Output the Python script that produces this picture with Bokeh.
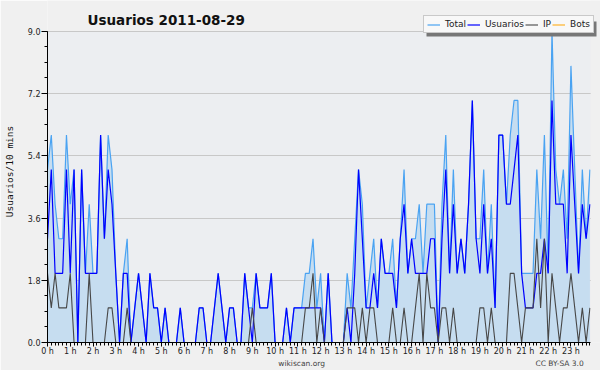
from bokeh.plotting import figure
from bokeh.models import (ColumnDataSource, Range1d, FixedTicker, Legend, LegendItem,
                          Label, BoxAnnotation, NumeralTickFormatter, LinearAxis)
from bokeh.embed import file_html
from bokeh.resources import INLINE

# ---- data: one value per 10-minute slot of 2011-08-29 ----
hour_labels = ["0 h", "1 h", "2 h", "3 h", "4 h", "5 h", "6 h", "7 h", "8 h", "9 h",
               "10 h", "11 h", "12 h", "13 h", "14 h", "15 h", "16 h", "17 h",
               "18 h", "19 h", "20 h", "21 h", "22 h", "23 h"]

total = [5, 6, 4, 3, 3, 6,   4, 5, 0, 5, 2, 4,   2, 2, 6, 3, 6, 5,   2, 0, 2, 3, 0, 1,
         2, 1, 0, 2, 1, 1,   0, 1, 0, 0, 0, 1,   0, 0, 0, 0, 1, 1,   0, 0, 1, 2, 1, 0,
         1, 1, 0, 0, 2, 1,   1, 2, 1, 1, 1, 2,   0, 0, 0, 1, 0, 1,   1, 1, 2, 2, 3, 1,
         2, 0, 2, 0, 0, 0,   0, 2, 1, 3, 5, 4,   1, 2, 3, 1, 3, 2,   2, 3, 1, 3, 5, 2,
         3, 3, 4, 2, 4, 4,   4, 0, 4, 6, 2, 5,   2, 3, 2, 4, 7, 3,   3, 5, 2, 4, 1, 6,
         6, 4, 6, 7, 7, 2,   2, 2, 2, 5, 3, 6,   2, 9, 5, 4, 5, 3,   8, 5, 2, 5, 3, 5]

usuarios = [3, 5, 2, 2, 2, 5,   2, 5, 0, 5, 2, 2,   2, 2, 6, 3, 5, 4,   2, 0, 2, 2, 0, 1,
            2, 1, 0, 2, 1, 1,   0, 1, 0, 0, 0, 1,   0, 0, 0, 0, 1, 1,   0, 0, 1, 2, 1, 0,
            1, 1, 0, 0, 2, 1,   0, 2, 1, 1, 1, 2,   0, 0, 0, 1, 0, 1,   1, 1, 1, 1, 1, 1,
            1, 0, 2, 0, 0, 0,   0, 1, 0, 2, 5, 3,   1, 1, 2, 1, 3, 2,   2, 2, 1, 3, 4, 2,
            3, 2, 2, 2, 2, 3,   3, 0, 3, 5, 2, 4,   2, 3, 2, 4, 7, 3,   2, 4, 2, 3, 1, 6,
            6, 4, 4, 5, 6, 2,   1, 1, 1, 2, 2, 3,   2, 7, 4, 4, 4, 2,   6, 4, 2, 4, 3, 4]

ip = [2, 1, 2, 1, 1, 1,   2, 0, 0, 0, 0, 2,   0, 0, 0, 0, 1, 1,   0, 0, 0, 1, 0, 0,
      0, 0, 0, 0, 0, 0,   0, 0, 0, 0, 0, 0,   0, 0, 0, 0, 0, 0,   0, 0, 0, 0, 0, 0,
      0, 0, 0, 0, 0, 0,   1, 0, 0, 0, 0, 0,   0, 0, 0, 0, 0, 0,   0, 0, 1, 1, 2, 0,
      1, 0, 0, 0, 0, 0,   0, 1, 1, 1, 0, 1,   0, 1, 1, 0, 0, 0,   0, 1, 0, 0, 1, 0,
      0, 1, 2, 0, 2, 1,   1, 0, 1, 1, 0, 1,   0, 0, 0, 0, 0, 0,   1, 1, 0, 1, 0, 0,
      0, 0, 2, 2, 1, 0,   1, 1, 1, 3, 1, 3,   0, 2, 1, 0, 1, 1,   2, 1, 0, 1, 0, 1]

bots = [0, 0, 0, 0, 0, 0,   0, 0, 0, 0, 0, 0,   0, 0, 0, 0, 0, 0,   0, 0, 0, 0, 0, 0,
        0, 0, 0, 0, 0, 0,   0, 0, 0, 0, 0, 0,   0, 0, 0, 0, 0, 0,   0, 0, 0, 0, 0, 0,
        0, 0, 0, 0, 0, 0,   0, 0, 0, 0, 0, 0,   0, 0, 0, 0, 0, 0,   0, 0, 0, 0, 0, 0,
        0, 0, 0, 0, 0, 0,   0, 0, 0, 0, 0, 0,   0, 0, 0, 0, 0, 0,   0, 0, 0, 0, 0, 0,
        0, 0, 0, 0, 0, 0,   0, 0, 0, 0, 0, 0,   0, 0, 0, 0, 0, 0,   0, 0, 0, 0, 0, 0,
        0, 0, 0, 0, 0, 0,   0, 0, 0, 0, 0, 0,   0, 0, 0, 0, 0, 0,   0, 0, 0, 0, 0, 0]

y_ticks = [0.0, 1.8, 3.6, 5.4, 7.2, 9.0]
Y_MAX = 9.0

slots = list(range(len(total)))          # 10-minute slot index
hour_ticks = [6 * h for h in range(len(hour_labels))]

FONT = "DejaVu Sans"
BORDER_BG = "#f0f0f0"
PLOT_BG = "#eceef1"

# ---- layout (pixels) ----
W, H = 600, 370
LEFT, BOTTOM = 46, 26
FRAME_W, FRAME_H = W - LEFT, H - BOTTOM
PX_SLOT = 3.8                     # pixels per 10-minute slot
PLOT_TOP_PX = 313                 # height of the 0..9 data area in pixels
X_END = 143.2                     # right edge of the data area (slot units)

p = figure(width=W, height=H, output_backend="svg", toolbar_location=None,
           title_location=None,
           x_range=Range1d(0, FRAME_W / PX_SLOT),
           y_range=Range1d(0, Y_MAX * FRAME_H / PLOT_TOP_PX),
           min_border_left=LEFT, min_border_right=0, min_border_top=0,
           min_border_bottom=BOTTOM,
           background_fill_color=BORDER_BG, border_fill_color=BORDER_BG)
p.outline_line_color = None

# plot-area background (below the grid)
p.add_layout(BoxAnnotation(left=0, right=X_END, bottom=0, top=Y_MAX,
                           fill_color=PLOT_BG, fill_alpha=1, line_color=None,
                           level="image"))

src = ColumnDataSource(dict(x=slots, total=total, usuarios=usuarios, ip=ip, bots=bots))

p.varea(x="x", y1=0, y2="total", source=src, fill_color="#c6ddf0")
r_bots = p.line("x", "bots", source=src, line_color="#ffa500", line_width=1)
r_total = p.line("x", "total", source=src, line_color="#4aa3f2", line_width=1.2)
r_us = p.line("x", "usuarios", source=src, line_color="#0000ff", line_width=1.2)
r_ip = p.line("x", "ip", source=src, line_color="#474747", line_width=1.1)

# ---- x axis (hours) ----
ax1 = p.xaxis[0]
ax1.bounds = (0, X_END)
ax1.ticker = FixedTicker(ticks=hour_ticks, minor_ticks=slots)
ax1.major_label_overrides = {t: lab for t, lab in zip(hour_ticks, hour_labels)}
ax1.major_label_text_font = FONT
ax1.major_label_text_font_size = "8px"
ax1.major_label_text_color = "#222222"
ax1.major_label_standoff = 0
ax1.major_tick_in = 0
ax1.major_tick_out = 4
ax1.minor_tick_in = 0
ax1.minor_tick_out = 3
p.xgrid.visible = False

# credits row below the hour labels
credit_pos = [67, 135]
credit_text = ["wikiscan.org", "CC BY-SA 3.0"]
ax2 = LinearAxis(ticker=FixedTicker(ticks=credit_pos),
                 major_label_overrides={c: t for c, t in zip(credit_pos, credit_text)},
                 axis_line_color=None, major_tick_line_color=None,
                 minor_tick_line_color=None, major_label_standoff=0,
                 major_tick_in=0, major_tick_out=0,
                 major_label_text_font=FONT, major_label_text_font_size="7.5px",
                 major_label_text_color="#444444")
p.add_layout(ax2, "below")

# ---- y axis ----
p.yaxis.bounds = (0, Y_MAX)
p.yaxis.ticker = FixedTicker(ticks=y_ticks,
                             minor_ticks=[round(0.45 * k, 2) for k in range(21)])
p.yaxis.formatter = NumeralTickFormatter(format="0.0")
p.yaxis.major_label_text_font = FONT
p.yaxis.major_label_text_font_size = "8px"
p.yaxis.major_label_text_color = "#222222"
p.yaxis.major_label_standoff = 1
p.yaxis.major_tick_in = 0
p.yaxis.major_tick_out = 6
p.yaxis.minor_tick_in = 0
p.yaxis.minor_tick_out = 3
p.yaxis.axis_label = "Usuarios/10 mins"
p.yaxis.axis_label_text_font = "DejaVu Sans Mono"
p.yaxis.axis_label_text_font_size = "9.5px"
p.yaxis.axis_label_text_font_style = "normal"
p.yaxis.axis_label_text_color = "#111111"
p.yaxis.axis_label_standoff = 10
p.ygrid.grid_line_color = "#c8c8c8"
p.ygrid.grid_line_width = 1

# cover the grid lines right of the data area
p.add_layout(BoxAnnotation(left=X_END, fill_color=BORDER_BG, fill_alpha=1,
                           line_color=None))

# ---- title ----
p.add_layout(Label(x=40, y=FRAME_H - 21, x_units="screen", y_units="screen",
                   text="Usuarios  2011-08-29", text_font=FONT,
                   text_font_size="13.5px", text_font_style="bold",
                   text_color="#111111", text_baseline="alphabetic"))

# ---- legend with shadow ----
LEG_X, LEG_Y, LEG_W, LEG_H = 376, FRAME_H - 35, 170, 15
p.add_layout(BoxAnnotation(left=LEG_X + 3, right=LEG_X + LEG_W + 3,
                           bottom=LEG_Y - 3, top=LEG_Y + LEG_H - 3,
                           left_units="screen", right_units="screen",
                           bottom_units="screen", top_units="screen",
                           fill_color="#777777", fill_alpha=1, line_color=None))

legend = Legend(items=[LegendItem(label="Total", renderers=[r_total]),
                       LegendItem(label="Usuarios", renderers=[r_us]),
                       LegendItem(label="IP", renderers=[r_ip]),
                       LegendItem(label="Bots", renderers=[r_bots])],
                orientation="horizontal", location=(LEG_X, LEG_Y),
                label_text_font=FONT, label_text_font_size="9px",
                label_text_color="#222222",
                label_height=9, label_width=0, glyph_height=9, glyph_width=13,
                label_standoff=5, spacing=1, padding=3, margin=0,
                border_line_color="#9a9a9a", background_fill_color="#f8f8f8",
                background_fill_alpha=1)
p.add_layout(legend)

open("out.html", "w").write(file_html(p, INLINE))
